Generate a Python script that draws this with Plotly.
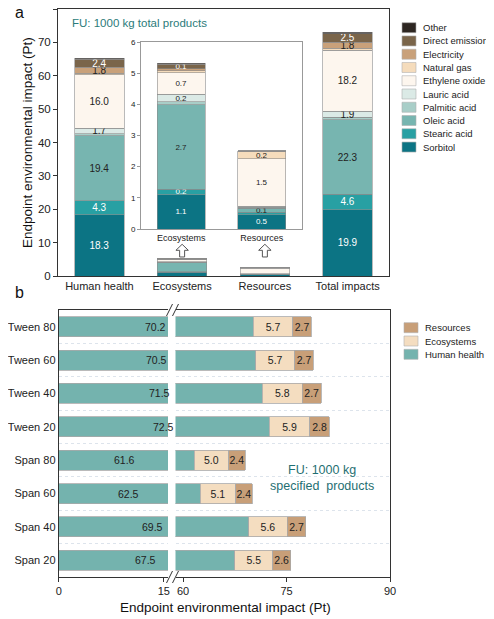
import plotly.graph_objects as go

# the page adds an 8px body margin, so the figure is drawn 8px smaller and
# reference pixel positions are shifted by 8
OFF = 8
W, H = 494 - OFF, 619 - OFF
FONT = 'Liberation Sans, Arial, sans-serif'


def fx(p):
    return (p - OFF) / W


def fy(p):
    return 1 - (p - OFF) / H


# ---- panel a data ----
components = ['Sorbitol', 'Stearic acid', 'Oleic acid', 'Palmitic acid', 'Lauric acid',
              'Ethylene oxide', 'Natural gas', 'Electricity', 'Direct emission', 'Other']
colors = ['#0c7484', '#28a0a3', '#77b5b0', '#a8cec8', '#dbeae6',
          '#fdf6ee', '#f5dcbc', '#c9a17a', '#7a654a', '#2d2621']
label_colors = ['white', 'white', '#222', '#222', '#222',
                '#222', '#222', '#222', 'white', 'white']

categories_a = ['Human health', 'Ecosystems', 'Resources', 'Total impacts']
human_health = [18.3, 4.3, 19.4, 0.6, 1.7, 16.0, 0.4, 1.8, 2.4, 0.3]
ecosystems = [1.1, 0.18, 2.7, 0.1, 0.24, 0.7, 0.05, 0.07, 0.14, 0.04]
resources = [0.45, 0.08, 0.14, 0.03, 0.03, 1.53, 0.22, 0.02, 0.01, 0.0]
total_impacts = [19.9, 4.6, 22.3, 0.7, 1.9, 18.2, 0.7, 1.8, 2.5, 0.4]

# ---- panel b data ----
rows_b = ['Tween 80', 'Tween 60', 'Tween 40', 'Tween 20',
          'Span 80', 'Span 60', 'Span 40', 'Span 20']
hh_b = [70.2, 70.5, 71.5, 72.5, 61.6, 62.5, 69.5, 67.5]
eco_b = [5.7, 5.7, 5.8, 5.9, 5.0, 5.1, 5.6, 5.5]
res_b = [2.7, 2.7, 2.7, 2.8, 2.4, 2.4, 2.7, 2.6]
groups_b = ['Human health', 'Ecosystems', 'Resources']
colors_b = ['#74b3ae', '#f4ddc0', '#c89f78']


def lab(v, thr):
    return f'{v:.1f}' if v >= thr else ''


fig = go.Figure()

# main panel a
for i, name in enumerate(components):
    vals = [human_health[i], ecosystems[i], resources[i], total_impacts[i]]
    fig.add_trace(go.Bar(
        x=[0, 1, 2, 3], y=vals, name=name, xaxis='x', yaxis='y',
        marker=dict(color=colors[i], line=dict(color='#8c8c8c', width=0.6)),
        text=[lab(vals[0], 1.0), '', '', lab(vals[3], 1.0)],
        textposition='inside', insidetextanchor='middle', constraintext='none',
        textangle=0, textfont=dict(size=10, color=label_colors[i], family=FONT),
        showlegend=False, hoverinfo='skip'))

# inset
for i, name in enumerate(components):
    vals = [ecosystems[i], resources[i]]
    fig.add_trace(go.Bar(
        x=[0, 1], y=vals, name=name, xaxis='x2', yaxis='y2',
        marker=dict(color=colors[i], line=dict(color='#8c8c8c', width=0.6)),
        text=[lab(v, 0.12) for v in vals],
        textposition='inside', insidetextanchor='middle', constraintext='none',
        textangle=0, textfont=dict(size=8, color=label_colors[i], family=FONT),
        showlegend=False, hoverinfo='skip'))

# panel b, left segment (human health only, clipped)
ypos = list(range(len(rows_b)))
fig.add_trace(go.Bar(
    x=hh_b, y=ypos, orientation='h', xaxis='x3', yaxis='y3',
    marker=dict(color=colors_b[0], line=dict(color='#a9a9a9', width=0.8)),
    showlegend=False, hoverinfo='skip'))

# panel b, right segment (stacked)
for g, vals, col in zip(groups_b, [hh_b, eco_b, res_b], colors_b):
    fig.add_trace(go.Bar(
        x=vals, y=ypos, orientation='h', xaxis='x4', yaxis='y4',
        marker=dict(color=col, line=dict(color='#a9a9a9', width=0.8)),
        text=None if g == 'Human health' else [f'{v:.1f}' for v in vals],
        textposition='inside', insidetextanchor='middle', constraintext='none',
        textangle=0, textfont=dict(size=10.5, color='#222', family=FONT),
        showlegend=False, hoverinfo='skip'))

annotations = []
shapes = []

# human health labels in the left segment
for y, v in zip(ypos, hh_b):
    annotations.append(dict(x=(v - 42.7) / 2, y=y, xref='x3', yref='y3', text=f'{v:.1f}',
                            showarrow=False, xanchor='center', yanchor='middle',
                            font=dict(size=10.5, color='#222')))

# arrows under the inset labels
for xc in [1, 2]:
    d = (f'M {xc - 0.03} 5.7 L {xc - 0.03} 7.7 L {xc - 0.075} 7.7 L {xc} 9.5 '
         f'L {xc + 0.075} 7.7 L {xc + 0.03} 7.7 L {xc + 0.03} 5.7 Z')
    shapes.append(dict(type='path', path=d, xref='x', yref='y',
                       line=dict(color='#555', width=1), fillcolor='white'))

# axis break marks
for cy in [310, 577]:
    for cx in [169.5, 175.5]:
        shapes.append(dict(type='line', xref='paper', yref='paper',
                           xsizemode='pixel', ysizemode='pixel',
                           xanchor=fx(cx), yanchor=fy(cy), x0=-3, x1=3, y0=-6, y1=6,
                           line=dict(color='#333', width=1)))

# legend panel a (top item = last component)
for k, i in enumerate(reversed(range(len(components)))):
    cy = 27.7 + 13.26 * k
    shapes.append(dict(type='rect', xref='paper', yref='paper',
                       x0=fx(402), x1=fx(416), y0=fy(cy + 5), y1=fy(cy - 5),
                       fillcolor=colors[i], line=dict(color='#b0b0b0', width=0.6)))
    annotations.append(dict(x=fx(421), y=fy(cy), xref='paper', yref='paper',
                            text=components[i], showarrow=False, xanchor='left',
                            yanchor='middle', font=dict(size=9.5, color='#222')))

# legend panel b
for k, i in enumerate(reversed(range(len(groups_b)))):
    cy = 327.7 + 13.3 * k
    shapes.append(dict(type='rect', xref='paper', yref='paper',
                       x0=fx(404), x1=fx(418), y0=fy(cy + 5), y1=fy(cy - 5),
                       fillcolor=colors_b[i], line=dict(color='#b0b0b0', width=0.6)))
    annotations.append(dict(x=fx(423), y=fy(cy), xref='paper', yref='paper',
                            text=groups_b[i], showarrow=False, xanchor='left',
                            yanchor='middle', font=dict(size=9.5, color='#222')))


def note(px, py, text, size, color='#111', anchor='center', angle=0):
    return dict(x=fx(px), y=fy(py), xref='paper', yref='paper', text=text,
                showarrow=False, xanchor=anchor, yanchor='middle', textangle=angle,
                font=dict(size=size, color=color))


annotations += [
    note(19, 13, 'a', 16),
    note(19, 292, 'b', 16),
    note(70, 23, 'FU: 1000 kg total products', 11.5, '#2b7b7a', anchor='left'),
    note(322, 478, 'FU: 1000 kg<br>specified  products', 12.5, '#1f6f72'),
    note(225, 607, 'Endpoint environmental impact (Pt)', 13.5),
    note(27, 143, 'Endpoint environmental impact (Pt)', 13.5, angle=-90),
]

axline = dict(showline=True, linecolor='#333', linewidth=1, zeroline=False,
              showgrid=False, tickcolor='#333', automargin=False)

fig.update_layout(
    width=W, height=H, margin=dict(l=0, r=0, t=0, b=0),
    paper_bgcolor='white', plot_bgcolor='white',
    font=dict(family=FONT, color='#222', size=11),
    barmode='stack', bargap=0.4,
    xaxis=dict(domain=[fx(58), fx(389)], range=[-0.5, 3.5], tickvals=[0, 1, 2, 3],
               ticktext=categories_a, anchor='y', mirror=True, ticks='',
               tickfont=dict(size=11), **axline),
    yaxis=dict(domain=[fy(276), fy(9)], range=[0, 80], dtick=10, anchor='x',
               mirror=True, ticks='outside', ticklen=4, tickfont=dict(size=11.5),
               **axline),
    xaxis2=dict(domain=[fx(141), fx(302)], range=[-0.5, 1.5], tickvals=[0, 1],
                ticktext=['Ecosystems', 'Resources'], anchor='y2', mirror=True, ticks='',
                tickfont=dict(size=9), showline=True, linecolor='#999', zeroline=False,
                showgrid=False, automargin=False),
    yaxis2=dict(domain=[fy(229), fy(42)], range=[0, 6], dtick=1, anchor='x2',
                mirror=True, ticks='outside', ticklen=3, tickcolor='#999',
                tickfont=dict(size=8), showline=True, linecolor='#999', zeroline=False,
                showgrid=False, automargin=False),
    xaxis3=dict(domain=[fx(58.7), fx(168)], range=[0, 15.6], tickvals=[0, 15],
                anchor='y3', mirror=True, ticks='outside', ticklen=4,
                tickfont=dict(size=11), **axline),
    yaxis3=dict(domain=[fy(577), fy(310)], range=[7.5, -0.5], tickvals=ypos,
                ticktext=rows_b, anchor='x3', ticks='', tickfont=dict(size=11),
                minor=dict(tickvals=[p + 0.5 for p in ypos[:-1]], showgrid=True,
                           gridcolor='#dde4ec', griddash='dot', gridwidth=1),
                **axline),
    xaxis4=dict(domain=[fx(175.5), fx(390)], range=[58.9, 90], tickvals=[60, 75, 90],
                anchor='y4', mirror=True, ticks='outside', ticklen=4,
                tickfont=dict(size=11), **axline),
    yaxis4=dict(domain=[fy(577), fy(310)], range=[7.5, -0.5], tickvals=ypos,
                anchor='x4', side='right', showticklabels=False, ticks='',
                minor=dict(tickvals=[p + 0.5 for p in ypos[:-1]], showgrid=True,
                           gridcolor='#dde4ec', griddash='dot', gridwidth=1),
                **axline),
    annotations=annotations,
    shapes=shapes,
)

fig.write_html('out.html')
